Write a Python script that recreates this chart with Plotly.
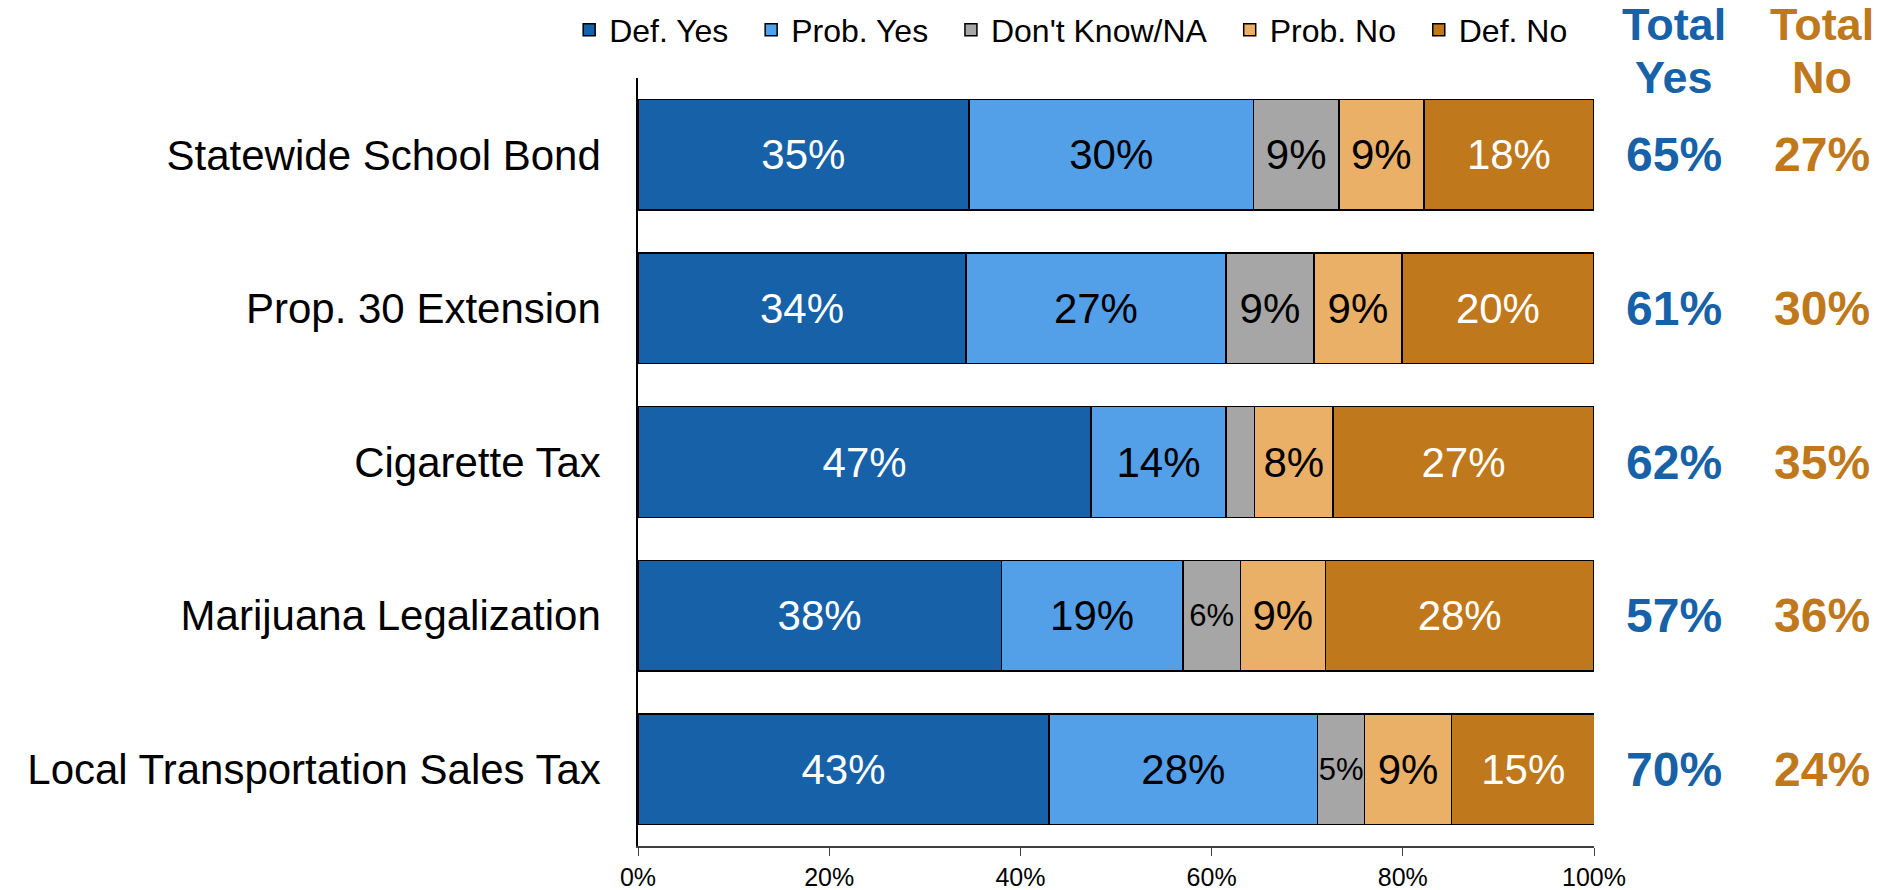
import plotly.graph_objects as go

categories = ["Statewide School Bond", "Prop. 30 Extension", "Cigarette Tax",
              "Marijuana Legalization", "Local Transportation Sales Tax"]
series_names = ["Def. Yes", "Prob. Yes", "Don't Know/NA", "Prob. No", "Def. No"]
def_yes = [34.6, 34.3, 47.4, 38.0, 43.0]
prob_yes = [29.8, 27.2, 14.1, 19.0, 28.1]
dont_know = [8.9, 9.2, 3.0, 6.0, 4.9]
prob_no = [8.9, 9.2, 8.2, 8.9, 9.1]
def_no = [17.8, 20.1, 27.3, 28.1, 15.0]
total_yes = [65, 61, 62, 57, 70]
total_no = [27, 30, 35, 36, 24]
tick_vals = [0, 20, 40, 60, 80, 100]
tick_text = ["0%", "20%", "40%", "60%", "80%", "100%"]

colors = ["#1761A8", "#539FE8", "#A6A6A6", "#EAB067", "#C0781C"]
label_colors = ["white", "black", "black", "black", "white"]
FONT = "Liberation Sans, Arial, sans-serif"
NBSP = "\u00a0"

series = [def_yes, prob_yes, dont_know, prob_no, def_no]

fig = go.Figure()
for name, vals, col, lc in zip(series_names, series, colors, label_colors):
    texts = []
    sizes = []
    for v in vals:
        if v < 4:
            texts.append("")
            sizes.append(10)
        elif v < 7:
            texts.append(f"{round(v)}%")
            sizes.append(31)
        else:
            texts.append(f"{round(v)}%")
            sizes.append(42)
    fig.add_trace(go.Bar(
        y=categories, x=vals, name=name + NBSP * 2, orientation="h",
        marker=dict(color=col, line=dict(color="black", width=1.5)),
        text=texts, textposition="inside", insidetextanchor="middle",
        textangle=0, constraintext="none",
        textfont=dict(color=lc, size=sizes, family=FONT),
        hoverinfo="skip",
    ))

XY, XN = 1.0837, 1.2385
for cat, ty, tn in zip(categories, total_yes, total_no):
    fig.add_annotation(x=XY, y=cat, xref="paper", yref="y", text=f"<b>{ty}%</b>",
                       showarrow=False, font=dict(size=48, color="#1761A8", family=FONT),
                       xanchor="center", yanchor="middle")
    fig.add_annotation(x=XN, y=cat, xref="paper", yref="y", text=f"<b>{tn}%</b>",
                       showarrow=False, font=dict(size=48, color="#C0781C", family=FONT),
                       xanchor="center", yanchor="middle")

for txt, xx, yy, col in [("Total", XY, 1.0703, "#1761A8"), ("Total", XN, 1.0703, "#C0781C"),
                         ("Yes", XY, 1.0013, "#1761A8"), ("No", XN, 1.0013, "#C0781C")]:
    fig.add_annotation(x=xx, y=yy, xref="paper", yref="paper", text=f"<b>{txt}</b>",
                       showarrow=False, font=dict(size=45, color=col, family=FONT),
                       xanchor="center", yanchor="middle")

fig.update_layout(
    width=1881, height=890,
    barmode="stack", bargap=0.28,
    plot_bgcolor="white", paper_bgcolor="white",
    margin=dict(l=638, r=287, t=78, b=44, autoexpand=False),
    font=dict(family=FONT, color="black"),
    showlegend=True,
    legend=dict(orientation="h", x=-0.072, y=1.0625, xanchor="left", yanchor="middle",
                font=dict(size=32, family=FONT), itemwidth=30, traceorder="normal",
                bgcolor="rgba(0,0,0,0)"),
)
fig.update_xaxes(range=[0, 100], tickvals=tick_vals, ticktext=tick_text,
                 showgrid=False, zeroline=False, showline=True, linecolor="#404040",
                 linewidth=2, ticks="outside", ticklen=8, tickcolor="#404040",
                 tickfont=dict(size=25, family=FONT))
fig.update_yaxes(autorange="reversed", showgrid=False, zeroline=False,
                 showline=True, linecolor="black", linewidth=1.5, ticks="",
                 ticklabelstandoff=27, tickfont=dict(size=42, family=FONT))

fig.write_html("out.html", config={"displayModeBar": False},
               post_script="document.body.style.margin='0';document.body.style.overflow='hidden';")
